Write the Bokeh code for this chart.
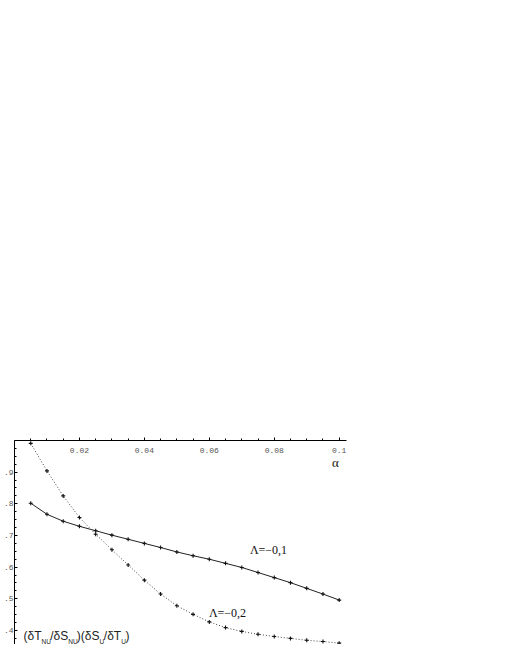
from bokeh.plotting import figure
from bokeh.models import FixedTicker, Label, Range1d
from bokeh.embed import file_html
from bokeh.resources import INLINE

# ---- data ----
alpha_vals = [0.005, 0.010, 0.015, 0.020, 0.025, 0.030, 0.035, 0.040, 0.045, 0.050,
              0.055, 0.060, 0.065, 0.070, 0.075, 0.080, 0.085, 0.090, 0.095, 0.100]
lambda_m01 = [0.802, 0.767, 0.745, 0.729, 0.715, 0.701, 0.688, 0.675, 0.662, 0.648,
              0.636, 0.625, 0.612, 0.599, 0.583, 0.567, 0.551, 0.533, 0.515, 0.496]
lambda_m02 = [0.991, 0.904, 0.825, 0.757, 0.704, 0.655, 0.607, 0.559, 0.515, 0.478,
              0.451, 0.427, 0.409, 0.397, 0.388, 0.381, 0.375, 0.369, 0.365, 0.360]

x_ticks = [0.02, 0.04, 0.06, 0.08, 0.1]
x_tick_labels = ["0.02", "0.04", "0.06", "0.08", "0.1"]
y_ticks = [0.4, 0.5, 0.6, 0.7, 0.8, 0.9]
y_tick_labels = [".4", ".5", ".6", ".7", ".8", ".9"]

series_labels = ["Λ=−0,1", "Λ=−0,2"]
x_axis_title = "α"

# ---- figure ----
X_END = 0.10225
Y_START = 0.3557
p = figure(frame_width=332, frame_height=204,
           min_border_left=0, min_border_top=440, min_border_right=150, min_border_bottom=0,
           x_range=Range1d(0, X_END), y_range=Range1d(Y_START, 1.0),
           x_axis_location="above", y_axis_location="left",
           output_backend="svg", toolbar_location=None, background_fill_color="white",
           border_fill_color="white")
p.outline_line_color = None
p.grid.visible = False

x_minor = [round(0.005 * k, 3) for k in range(1, 21)]
y_minor = [round(0.35 + 0.025 * k, 3) for k in range(0, 27)]
p.xaxis.ticker = FixedTicker(ticks=x_ticks, minor_ticks=x_minor)
p.yaxis.ticker = FixedTicker(ticks=y_ticks, minor_ticks=y_minor)
p.xaxis.major_label_overrides = {t: l for t, l in zip(x_ticks, x_tick_labels)}
p.yaxis.major_label_overrides = {t: l for t, l in zip(y_ticks, y_tick_labels)}

for ax in (p.xaxis[0], p.yaxis[0]):
    ax.axis_line_color = "#000000"
    ax.axis_line_width = 1
    ax.major_tick_line_color = "#000000"
    ax.minor_tick_line_color = "#000000"
    ax.major_label_text_font = "Liberation Mono"
    ax.major_label_text_font_size = "8px"
    ax.major_label_text_color = "#555555"

p.xaxis.major_tick_out = 3
p.xaxis.major_tick_in = 0
p.xaxis.minor_tick_out = 2
p.xaxis.minor_tick_in = 0
p.xaxis.major_label_standoff = -15

p.yaxis.major_tick_out = 0
p.yaxis.major_tick_in = 3
p.yaxis.minor_tick_out = 0
p.yaxis.minor_tick_in = 2
p.yaxis.major_label_standoff = 1

# ---- curves ----
p.line(alpha_vals, lambda_m01, line_color="#222222", line_width=1)
p.line(alpha_vals, lambda_m02, line_color="#444444", line_width=1, line_dash="1 2")
p.scatter(alpha_vals, lambda_m01, marker="cross", size=4, line_color="#111111", line_width=1.1)
p.scatter(alpha_vals, lambda_m02, marker="cross", size=4, line_color="#111111", line_width=1.1)

# ---- annotations ----
def dx(px):  # page pixel -> data x
    return (px - 16) / 3247.0

def dy(py):  # page pixel -> data y
    return 1.0 - (py - 448) / 316.6

p.add_layout(Label(x=dx(337), y=dy(470), text=x_axis_title, text_font="Liberation Serif",
                   text_font_size="13px", text_align="center", text_baseline="middle",
                   text_color="#111111"))
p.add_layout(Label(x=dx(270), y=dy(557), text=series_labels[0], text_font="Liberation Serif",
                   text_font_size="12px", text_align="center", text_baseline="middle",
                   text_color="#111111"))
p.add_layout(Label(x=dx(229), y=dy(620), text=series_labels[1], text_font="Liberation Serif",
                   text_font_size="12px", text_align="center", text_baseline="middle",
                   text_color="#111111"))

# y-axis title with subscripts: (δT_NU/δS_NU)(δS_U/δT_U)
pieces = [("(δT", 25.0, False), ("NU", 43.0, True), ("/δS", 51.7, False), ("NU", 69.7, True),
          (")(δS", 78.3, False), ("U", 101.0, True), ("/δT", 105.3, False), ("U", 122.7, True),
          (")", 127.0, False)]
for txt, px, sub in pieces:
    p.add_layout(Label(x=dx(px), y=dy(648.5 if sub else 643.0), text=txt,
                       text_font="Liberation Sans",
                       text_font_size="6.5px" if sub else "12px",
                       text_align="left", text_baseline="alphabetic", text_color="#222222"))

open("out.html", "w").write(file_html(p, INLINE))
